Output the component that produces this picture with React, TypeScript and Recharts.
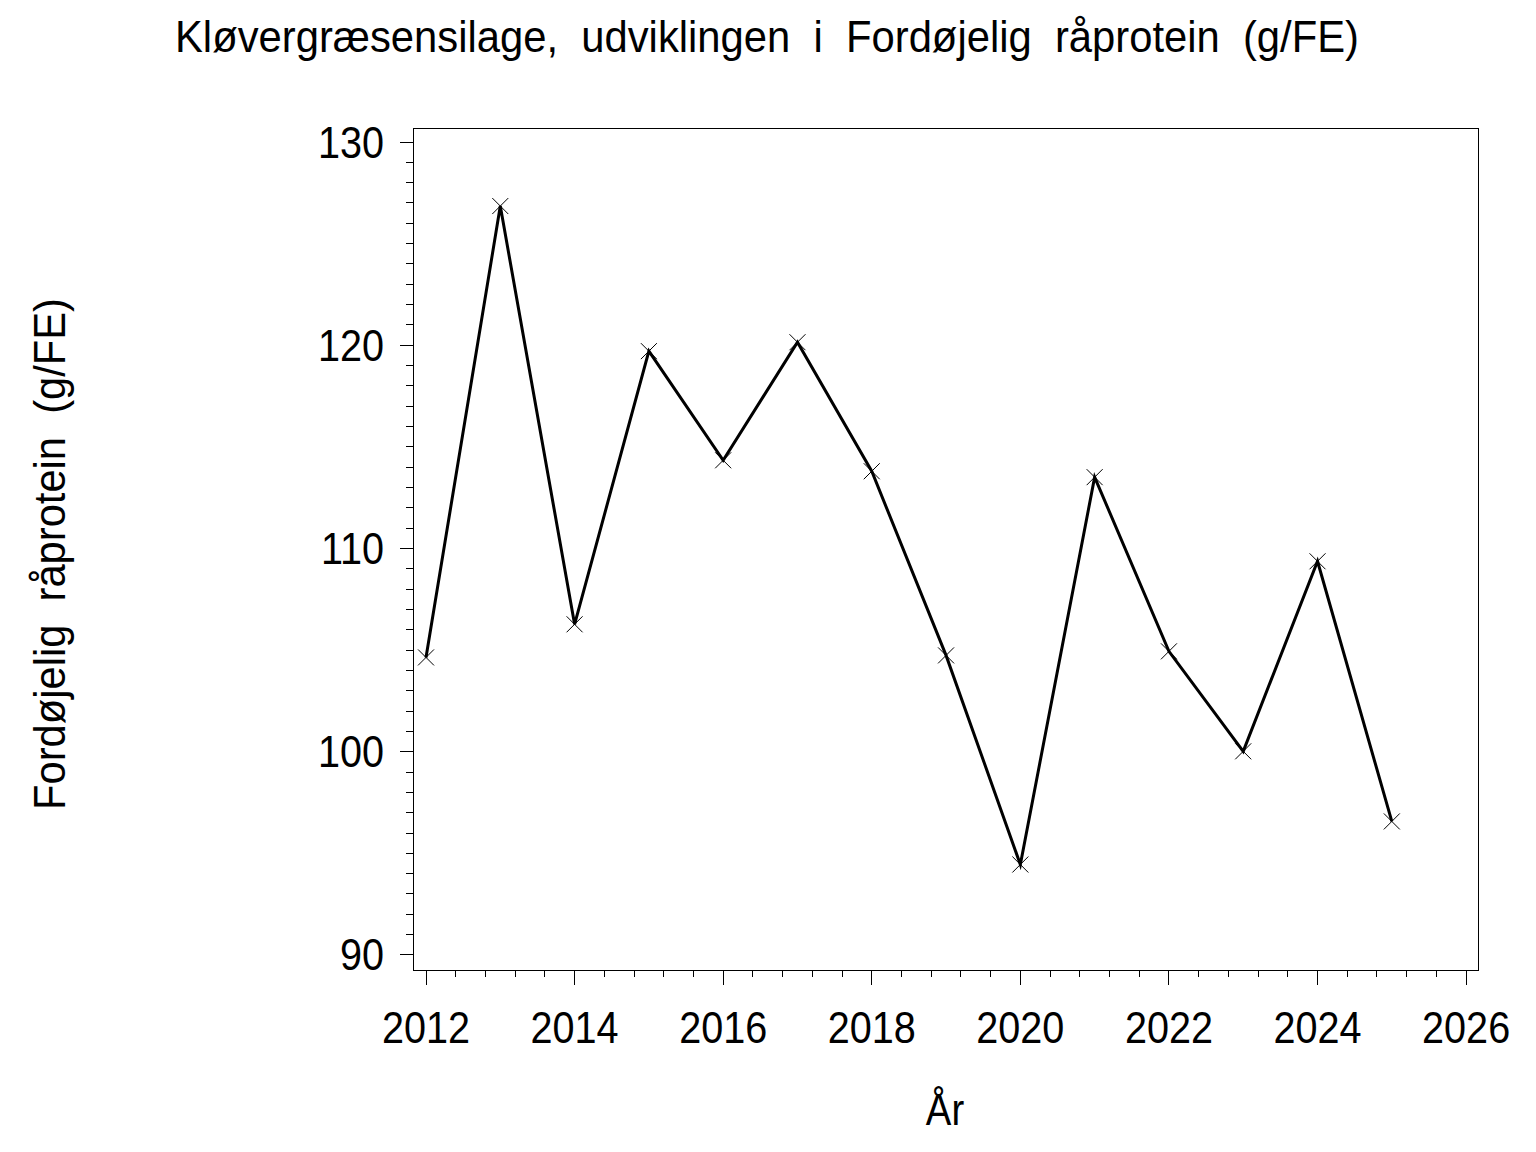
import React from 'react';
import { LineChart, Line, XAxis, YAxis, ReferenceArea } from 'recharts';

const years = [2012, 2013, 2014, 2015, 2016, 2017, 2018, 2019, 2020, 2021, 2022, 2023, 2024, 2025];
const protein = [104.64, 126.85, 106.27, 119.71, 114.34, 120.15, 113.8, 104.74, 94.45, 113.51, 104.94, 100.02, 109.37, 96.57];

const xMajorTicks = [2012, 2014, 2016, 2018, 2020, 2022, 2024, 2026];
const yMajorTicks = [90, 100, 110, 120, 130];
const xMinorStep = 0.4;
const yMinorStep = 1;

const xDomain = [2011.825, 2026.16];
const yDomain = [89.26, 130.69];

const titleText = 'Kløvergræsensilage,  udviklingen  i  Fordøjelig  råprotein  (g/FE)';
const yLabelText = 'Fordøjelig  råprotein  (g/FE)';
const xLabelText = 'År';

const FONT = '"Liberation Sans", Arial, sans-serif';

const makeTicks = (start: number, end: number, step: number) => {
  const out: number[] = [];
  const n = Math.round((end - start) / step);
  for (let i = 0; i <= n; i++) out.push(Math.round((start + i * step) * 100) / 100);
  return out;
};
const xAllTicks = makeTicks(xMajorTicks[0], xMajorTicks[xMajorTicks.length - 1], xMinorStep);
const yAllTicks = makeTicks(yMajorTicks[0], yMajorTicks[yMajorTicks.length - 1], yMinorStep);

const data = years.map((y, i) => ({ year: y, value: protein[i] }));

const XTick = (p: any) => {
  const v = p.payload.value;
  const major = xMajorTicks.includes(v);
  return (
    <g>
      <line x1={p.x} x2={p.x} y1={p.y} y2={p.y + (major ? 15 : 7)} stroke="#000" strokeWidth={1} shapeRendering="crispEdges" />
      {major && (
        <text
          transform={`translate(${p.x},${p.y}) scale(0.9,1)`}
          x={0}
          y={73}
          textAnchor="middle"
          fontFamily={FONT}
          fontSize={44}
          fill="#000"
        >
          {v}
        </text>
      )}
    </g>
  );
};

const YTick = (p: any) => {
  const v = p.payload.value;
  const major = yMajorTicks.includes(v);
  return (
    <g>
      <line x1={p.x - (major ? 13 : 7)} x2={p.x} y1={p.y} y2={p.y} stroke="#000" strokeWidth={1} shapeRendering="crispEdges" />
      {major && (
        <text
          transform={`translate(${p.x - 29},${p.y}) scale(0.9,1)`}
          x={0}
          y={15.5}
          textAnchor="end"
          fontFamily={FONT}
          fontSize={44}
          fill="#000"
        >
          {v}
        </text>
      )}
    </g>
  );
};

const XDot = (p: any) => {
  const { cx, cy } = p;
  if (cx == null || cy == null) return <g />;
  const s = 8;
  return (
    <path
      d={`M${cx - s},${cy - s}L${cx + s},${cy + s}M${cx - s},${cy + s}L${cx + s},${cy - s}`}
      stroke="#000"
      strokeWidth={1}
      fill="none"
    />
  );
};

export default function App() {
  return (
    <div style={{ position: 'absolute', left: 0, top: 0, width: 1536, height: 1152, background: '#fff' }}>
      <LineChart
        width={1536}
        height={1152}
        data={data}
        margin={{ top: 128, left: 412, right: 58, bottom: 181 }}
      >
        <XAxis
          dataKey="year"
          type="number"
          domain={xDomain}
          allowDataOverflow
          ticks={xAllTicks}
          interval={0}
          tickSize={0}
          tickMargin={0}
          height={1}
          axisLine={false}
          tickLine={false}
          tick={XTick}
        />
        <YAxis
          type="number"
          domain={yDomain}
          allowDataOverflow
          ticks={yAllTicks}
          interval={0}
          tickSize={0}
          tickMargin={0}
          width={1}
          axisLine={false}
          tickLine={false}
          tick={YTick}
        />
        <ReferenceArea
          x1={xDomain[0]}
          x2={xDomain[1]}
          y1={yDomain[0]}
          y2={yDomain[1]}
          fill="none"
          fillOpacity={0}
          stroke="#000"
          strokeWidth={1}
          shapeRendering="crispEdges"
          ifOverflow="visible"
        />
        <Line
          type="linear"
          dataKey="value"
          stroke="#000"
          strokeWidth={3}
          dot={XDot}
          activeDot={false}
          isAnimationActive={false}
        />
      </LineChart>
      <svg
        width={1536}
        height={1152}
        style={{ position: 'absolute', left: 0, top: 0, pointerEvents: 'none' }}
      >
        <text
          x={767}
          y={52}
          textAnchor="middle"
          fontFamily={FONT}
          fontSize={44}
          textLength={1184}
          lengthAdjust="spacingAndGlyphs"
          style={{ whiteSpace: 'pre' }}
          fill="#000"
        >
          {titleText}
        </text>
        <text
          transform="translate(65,554) rotate(-90)"
          x={0}
          y={0}
          textAnchor="middle"
          fontFamily={FONT}
          fontSize={44}
          textLength={512}
          lengthAdjust="spacingAndGlyphs"
          style={{ whiteSpace: 'pre' }}
          fill="#000"
        >
          {yLabelText}
        </text>
        <text
          transform="translate(945,1125) scale(0.87,1)"
          x={0}
          y={0}
          textAnchor="middle"
          fontFamily={FONT}
          fontSize={44}
          fill="#000"
        >
          {xLabelText}
        </text>
      </svg>
    </div>
  );
}
